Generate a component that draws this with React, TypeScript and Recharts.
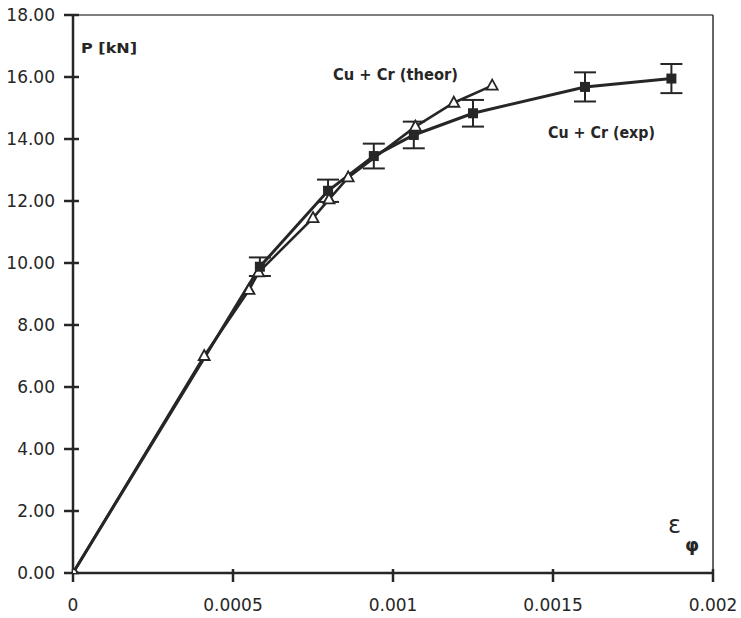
import React from 'react';
import { ComposedChart, Line, XAxis, YAxis, ErrorBar, ReferenceLine } from 'recharts';

// Cu + Cr, theoretical curve (strain, load in kN)
const theorStrain = [0, 0.00041, 0.00055, 0.00058, 0.00075, 0.0008, 0.00086, 0.00107, 0.00119, 0.00131];
const theorLoad = [0, 7.0, 9.13, 9.7, 11.45, 12.05, 12.76, 14.4, 15.17, 15.72];

// Cu + Cr, experimental points with scatter
const expStrain = [0, 0.000584, 0.000797, 0.00094, 0.001065, 0.00125, 0.0016, 0.00187];
const expLoad = [0, 9.88, 12.33, 13.45, 14.13, 14.83, 15.68, 15.95];
const expErr = [null, 0.3, 0.36, 0.4, 0.43, 0.43, 0.47, 0.47];

const xTicks = [0, 0.0005, 0.001, 0.0015, 0.002];
const xTickLabels = ['0', '0.0005', '0.001', '0.0015', '0.002'];
const yTicks = [0, 2, 4, 6, 8, 10, 12, 14, 16, 18];

const theorData = theorStrain.map((e, i) => ({ e, p: theorLoad[i] }));
const expData = expStrain.map((e, i) => ({ e, p: expLoad[i], err: expErr[i] }));

const INK = '#262626';
const FONT = '"DejaVu Sans", Arial, sans-serif';
const tickFont = { fontSize: 17, fontFamily: FONT, fill: INK };

// inward half of the crossing ticks, in data units (~6px / ~4px)
const Y_TICK_IN = 0.0000188;
const X_TICK_IN = 0.13;

const Triangle = (props: any) => {
  const { cx, cy, index } = props;
  if (index === 0 || cx == null) return <g key={`t${index}`} />;
  return (
    <path
      key={`t${index}`}
      d={`M${cx},${cy - 6} L${cx + 5.5},${cy + 4} L${cx - 5.5},${cy + 4} Z`}
      fill="#fff"
      stroke={INK}
      strokeWidth={1.8}
    />
  );
};

const Square = (props: any) => {
  const { cx, cy, index } = props;
  if (cx == null) return <g key={`s${index}`} />;
  if (index === 0) {
    return <circle key={`s${index}`} cx={cx} cy={cy} r={4} fill="#fff" stroke={INK} strokeWidth={2} />;
  }
  return <rect key={`s${index}`} x={cx - 5} y={cy - 5} width={10} height={10} fill={INK} />;
};

const StrainLoadChart = () => {
  return (
    <ComposedChart
      width={741}
      height={618}
      margin={{ top: 15, right: 28, left: 0, bottom: 0 }}
      style={{ background: '#fff' }}
    >
      <XAxis
        dataKey="e"
        type="number"
        domain={[0, 0.002]}
        ticks={xTicks}
        tickFormatter={(v: number) => xTickLabels[xTicks.indexOf(v)] ?? String(v)}
        tick={tickFont}
        tickSize={9}
        tickMargin={17}
        tickLine={{ stroke: INK, strokeWidth: 2.5 }}
        axisLine={{ stroke: INK, strokeWidth: 2.5 }}
        height={45}
        allowDataOverflow
      />
      <YAxis
        type="number"
        domain={[0, 18]}
        ticks={yTicks}
        tickFormatter={(v: number) => v.toFixed(2)}
        tick={tickFont}
        tickSize={9}
        tickMargin={9}
        tickLine={{ stroke: INK, strokeWidth: 2.5 }}
        axisLine={{ stroke: INK, strokeWidth: 2.5 }}
        width={73}
        allowDataOverflow
      />
      <ReferenceLine y={18} stroke="#555" strokeWidth={1.5} />
      <ReferenceLine x={0.002} stroke="#333" strokeWidth={1.5} />

      {yTicks.map((v) => (
        <ReferenceLine
          key={`yt${v}`}
          segment={[{ x: 0, y: v }, { x: Y_TICK_IN, y: v }]}
          stroke={INK}
          strokeWidth={2.5}
          ifOverflow="visible"
        />
      ))}
      {xTicks.map((v) => (
        <ReferenceLine
          key={`xt${v}`}
          segment={[{ x: v, y: 0 }, { x: v, y: X_TICK_IN }]}
          stroke={INK}
          strokeWidth={2.5}
          ifOverflow="visible"
        />
      ))}

      <Line
        data={theorData}
        dataKey="p"
        stroke={INK}
        strokeWidth={2.6}
        dot={Triangle}
        activeDot={false}
        isAnimationActive={false}
      />
      <Line
        data={expData}
        dataKey="p"
        stroke={INK}
        strokeWidth={3}
        dot={Square}
        activeDot={false}
        isAnimationActive={false}
      >
        <ErrorBar dataKey="err" direction="y" width={11} stroke={INK} strokeWidth={2} />
      </Line>

      <text x={81} y={53} fontSize={14} fontWeight="bold" fontFamily={FONT} fill={INK} textLength={56} lengthAdjust="spacingAndGlyphs">
        P [kN]
      </text>
      <text x={333} y={80} fontSize={15} fontWeight="bold" fontFamily={FONT} fill={INK} textLength={125} lengthAdjust="spacingAndGlyphs">
        Cu + Cr (theor)
      </text>
      <text x={548} y={138} fontSize={15} fontWeight="bold" fontFamily={FONT} fill={INK} textLength={107} lengthAdjust="spacingAndGlyphs">
        Cu + Cr (exp)
      </text>
      <text x={668} y={533} fontSize={24} fontFamily={FONT} fill={INK}>
        ε
      </text>
      <text x={685} y={551} fontSize={18} fontWeight="bold" fontFamily={FONT} fill={INK}>
        φ
      </text>
    </ComposedChart>
  );
};

const App = () => {
  return (
    <div style={{ position: 'absolute', left: 0, top: 0, background: '#fff' }}>
      <StrainLoadChart />
    </div>
  );
};

export default App;
